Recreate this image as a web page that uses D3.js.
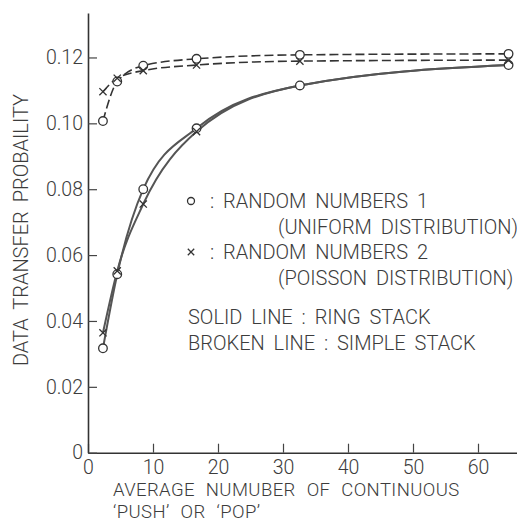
<!DOCTYPE html>
<html>
<head>
<meta charset="utf-8">
<script src="https://cdn.jsdelivr.net/npm/d3@7"></script>
<style>
  body { margin: 0; background: #fff; }
  svg text { font-family: Roboto, "Liberation Sans", sans-serif; font-weight: 300; fill: #3c3c3c; }
</style>
</head>
<body>
<div id="chart"></div>
<script>
// Average number of continuous push/pop
const pushPop = [2.3, 4.5, 8.5, 16.7, 32.6, 64.7];

// Data transfer probability
const uniformSimple = [0.1007, 0.1127, 0.1175, 0.1196, 0.1208, 0.1211];
const poissonSimple = [0.1096, 0.1137, 0.116, 0.1177, 0.1189, 0.1192];
const uniformRing = [0.0317, 0.0542, 0.080, 0.0985, 0.1115, 0.1177];
const poissonRing = [0.0364, 0.0552, 0.0755, 0.0975, 0.1115, 0.1177];
const poissonRingMarked = 4; // only the first points carry an x mark

const xTicks = [0, 10, 20, 30, 40, 50, 60];
const yTicks = [0, 0.02, 0.04, 0.06, 0.08, 0.10, 0.12];

const legendRows = [
  { mark: "circle", label: "RANDOM NUMBERS 1" },
  { mark: null, label: "(UNIFORM DISTRIBUTION)" },
  { mark: "cross", label: "RANDOM NUMBERS 2" },
  { mark: null, label: "(POISSON DISTRIBUTION)" },
  { mark: null, label: "SOLID LINE : RING STACK" },
  { mark: null, label: "BROKEN LINE : SIMPLE STACK" }
];

const xTitle = ["AVERAGE NUMUBER OF CONTINUOUS", "\u2018PUSH\u2019 OR \u2018POP\u2019"];

const width = 517;
const height = 527;

const svg = d3
  .select("#chart")
  .append("svg")
  .attr("width", width)
  .attr("height", height);

// Scales
const x = d3.scaleLinear().domain([0, 66]).range([88, 517]);
const y = d3.scaleLinear().domain([0, 0.1335]).range([452.7, 13]);

// X Axis
const xAxis = svg
  .append("g")
  .attr("transform", `translate(0,${y(0)})`)
  .call(d3.axisBottom(x).tickValues(xTicks).tickSize(-9).tickSizeOuter(0).tickPadding(7));

// Y Axis
const yAxis = svg
  .append("g")
  .attr("transform", `translate(${x(0)},0)`)
  .call(
    d3.axisLeft(y)
      .tickValues(yTicks)
      .tickFormat((d) => (d === 0 ? "0" : d3.format(".2f")(d)))
      .tickSize(-9)
      .tickSizeOuter(0)
      .tickPadding(5)
  );

[xAxis, yAxis].forEach((g) => {
  g.select(".domain").attr("stroke", "#333").attr("stroke-width", 1.6);
  g.selectAll(".tick line").attr("stroke", "#444").attr("stroke-width", 1.2);
  g.selectAll(".tick text")
    .style("font-size", "19.5px")
    .style("font-family", "Roboto, Liberation Sans, sans-serif")
    .style("font-weight", 300)
    .attr("fill", "#3c3c3c");
});

// Lines
const series = [
  { values: uniformRing, dash: null, mark: "circle", marked: uniformRing.length },
  { values: poissonRing, dash: null, mark: "cross", marked: poissonRingMarked },
  { values: uniformSimple, dash: "9,4", mark: "circle", marked: uniformSimple.length },
  { values: poissonSimple, dash: "9,4", mark: "cross", marked: poissonSimple.length }
];

const line = d3
  .line()
  .x((d) => x(d[0]))
  .y((d) => y(d[1]))
  .curve(d3.curveMonotoneX);

series.forEach((s) => {
  const pts = pushPop.map((v, i) => [v, s.values[i]]);
  svg
    .append("path")
    .datum(pts)
    .attr("d", line)
    .attr("fill", "none")
    .attr("stroke", s.dash ? "#333" : "#555")
    .attr("stroke-width", s.dash ? 1.6 : 2)
    .attr("stroke-dasharray", s.dash);
});

// Markers
function drawMark(g, kind, cx, cy, r) {
  if (kind === "circle") {
    g.append("circle")
      .attr("cx", cx)
      .attr("cy", cy)
      .attr("r", r)
      .attr("fill", "#fff")
      .attr("stroke", "#333")
      .attr("stroke-width", 1.3);
  } else {
    g.append("path")
      .attr("d", `M${cx - r},${cy - r}L${cx + r},${cy + r}M${cx - r},${cy + r}L${cx + r},${cy - r}`)
      .attr("stroke", "#333")
      .attr("stroke-width", 1.3);
  }
}

const marks = svg.append("g");
series.forEach((s) => {
  pushPop.slice(0, s.marked).forEach((v, i) => {
    drawMark(marks, s.mark, x(v), y(s.values[i]), s.mark === "circle" ? 4.3 : 3.6);
  });
});

// Legend
const legendY = [208, 234, 259, 285, 324, 350];
const legend = svg.append("g").style("font-size", "20px").style("word-spacing", "4px");
legendRows.forEach((row, i) => {
  if (row.mark) {
    drawMark(legend, row.mark, 191, legendY[i] - 7, row.mark === "circle" ? 3.5 : 3.2);
    legend.append("text").attr("x", 210).attr("y", legendY[i]).text(":");
    legend.append("text").attr("x", 223).attr("y", legendY[i]).text(row.label);
  } else {
    legend
      .append("text")
      .attr("x", i < 4 ? 278 : 188)
      .attr("y", legendY[i])
      .text(row.label);
  }
});

// Y Axis Label
svg
  .append("text")
  .attr("transform", "translate(28,230) rotate(-90)")
  .attr("text-anchor", "middle")
  .style("font-size", "20px")
  .style("word-spacing", "4px")
  .text("DATA TRANSFER PROBAILITY");

// X Axis Label (two lines)
xTitle.forEach((t, i) => {
  svg
    .append("text")
    .attr("x", 113)
    .attr("y", 496 + i * 22)
    .style("font-size", "18.5px")
    .style("letter-spacing", "0.4px")
    .style("word-spacing", "6px")
    .text(t);
});
</script>
</body>
</html>
